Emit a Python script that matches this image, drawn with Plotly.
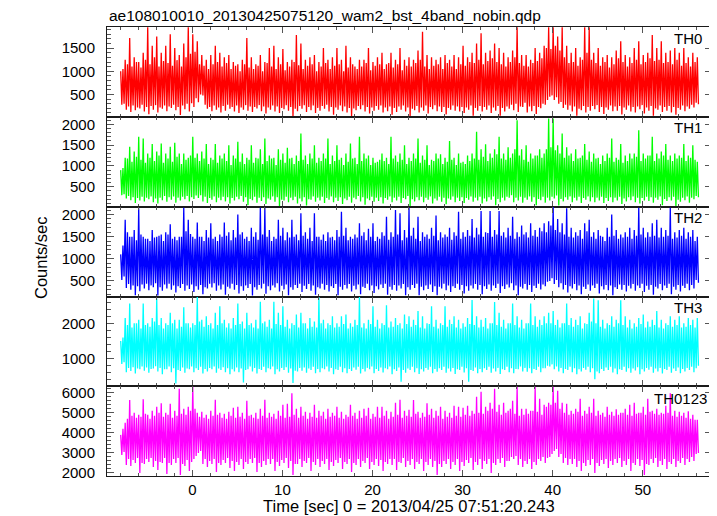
import plotly.graph_objects as go

title_text = "ae108010010_20130425075120_wam2_bst_4band_nobin.qdp"
x_title = "Time [sec] 0 = 2013/04/25 07:51:20.243"
y_title = "Counts/sec"
names = ["TH0", "TH1", "TH2", "TH3", "TH0123"]
colors = ["#ff0000", "#00ff00", "#0000ff", "#00ffff", "#ff00ff"]

T_START = -7.95
SPIKE_STEP = 0.5

TH0_hi = [1000,1250,1720,1300,1200,1400,1950,1550,1750,1400,
          1550,1800,1500,1350,1600,1950,1800,1650,1350,1250,
          1350,1550,1400,1300,1350,1200,1150,1250,1720,1300,
          1150,1350,1200,1500,1550,1300,1480,1200,1250,1780,
          1600,1250,1300,1350,1200,1500,1250,1300,1500,1250,
          1550,1300,1100,1250,1250,1500,1200,1300,1400,1150,
          1400,1250,1500,1250,1300,1250,1450,1850,1350,1300,
          1250,1300,1350,1250,1350,1300,1550,1300,1400,1600,
          1820,1400,1450,1600,1500,1400,1300,1450,1950,1350,
          1350,1250,1500,1400,1550,1950,1950,1750,1950,1550,
          1400,1500,1300,1950,1950,1400,1500,1300,1350,1300,
          1450,1650,1350,1300,1500,1650,1350,1400,1780,1500,
          1650,1400,1450,1500,1400,1500,1300,1400,1300]
TH0_hi2 = [1050,1150,1100,1200,1080,1250,1150,1300,1100,1220,
           1180,1120,1240,1100,1300,1380,1420,1150,1120,1050,
           1150,1200,1100,1180,1050,1120,1000,1150,1080,1050,
           1120,1000,1180,1100,1050,1150,1020,1100,1200,1130,
           1050,1120,1150,1000,1100,1180,1050,1120,1150,1000,
           1080,1150,1050,1100,1180,1020,1120,1150,1050,1180,
           1080,1150,1020,1120,1100,1180,1250,1100,1050,1120,
           1150,1050,1180,1100,1050,1150,1120,1200,1180,1250,
           1150,1220,1280,1200,1150,1100,1200,1300,1180,1120,
           1100,1180,1220,1280,1500,1480,1550,1450,1300,1180,
           1200,1120,1250,1400,1250,1180,1120,1200,1080,1150,
           1280,1200,1100,1180,1250,1150,1200,1280,1220,1250,
           1180,1200,1150,1250,1120,1180,1100,1200]
TH0_lo = [280,170,120,160,200,130,75,170,110,190,
          140,210,160,55,180,130,230,330,480,190,
          140,170,110,150,190,130,100,170,150,120,
          200,140,90,170,130,100,180,150,20,140,
          190,120,160,100,150,190,130,60,170,140,
          110,20,160,180,130,90,150,170,110,140,
          60,120,170,130,30,160,110,150,90,180,
          140,120,70,170,150,130,100,170,40,150,
          130,170,100,150,40,130,190,160,120,230,
          110,140,80,200,280,450,380,300,210,170,
          130,40,160,110,150,180,120,80,170,140,
          150,70,170,130,110,180,90,150,40,170,
          120,150,110,60,170,140,190,220,290]
TH0_lo2 = [300,240,260,220,280,230,250,270,220,260,
           240,280,230,260,300,310,420,500,280,230,
           260,220,250,280,230,260,220,270,240,230,
           270,240,220,260,240,210,270,230,190,250,
           270,230,260,210,250,280,230,220,260,240,
           210,200,250,270,230,220,250,260,220,240,
           210,240,260,220,190,250,220,260,230,270,
           240,230,210,260,240,230,220,260,210,250,
           230,260,220,250,210,240,280,300,240,320,
           240,250,230,300,380,480,440,340,280,260,
           240,190,250,230,250,270,230,220,260,240,
           250,220,260,230,240,270,220,250,200,260,
           230,250,230,210,260,240,280,320]

TH1_hi = [900,1200,1460,1350,1700,1660,1300,1530,1350,1540,
          1300,1460,1560,1300,1300,1200,1700,1300,1350,1530,
          1200,1530,1250,1300,1500,1250,1580,1300,1200,1500,
          1200,1400,1660,1250,1200,1400,1300,1440,1200,1250,
          1780,1250,1300,1500,1200,1300,1660,1250,1500,1200,
          1300,1540,1200,1700,1300,1250,1200,1100,1300,1200,
          1700,1250,1300,1500,1200,1300,1660,1250,1500,1150,
          1300,1280,1200,1600,1200,1300,1100,1250,1300,1820,
          1400,1520,1300,1400,1700,1300,1450,1300,2100,1400,
          1500,1300,1250,1400,1300,2140,2140,1500,1780,1450,
          1300,1400,1200,1530,1350,1300,1200,1250,1300,1660,
          1200,1530,1250,1300,1300,1860,1300,1250,1700,1300,
          1350,1530,1250,1300,1250,1530,1250,1500,1100]
TH1_hi2 = [950,1180,1100,1220,1150,1080,1200,1120,1250,1080,
           1180,1100,1220,1050,1150,1250,1200,1120,1180,1050,
           1150,1080,1180,1120,1020,1180,1100,1050,1150,1080,
           1180,1050,1120,1180,1020,1150,1080,1180,1050,1120,
           1150,1050,1180,1080,1120,1180,1050,1120,1150,1020,
           1100,1180,1050,1120,1180,1020,1080,1150,1120,1050,
           1180,1100,1150,1050,1120,1180,1080,1150,1020,1120,
           1180,1050,1100,1150,1020,1080,1050,1120,1180,1150,
           1220,1120,1200,1280,1180,1150,1200,1400,1250,1150,
           1100,1180,1250,1200,1400,1450,1380,1300,1200,1250,
           1120,1180,1250,1150,1100,1180,1050,1120,1200,1100,
           1150,1080,1120,1180,1220,1120,1180,1250,1120,1180,
           1250,1150,1120,1180,1200,1120,1200,1150]
TH1_lo = [300,220,180,110,170,150,200,130,100,180,
          140,190,120,170,200,150,210,230,150,110,
          190,130,180,150,100,170,200,140,60,180,
          120,160,90,190,140,30,170,130,180,100,
          150,50,190,140,170,110,190,130,160,90,
          180,120,200,150,70,180,140,160,100,190,
          130,170,110,200,40,150,180,130,190,100,
          170,140,80,190,130,160,110,190,140,170,
          100,150,190,60,130,170,240,130,170,120,
          190,140,60,180,120,170,220,50,150,190,
          130,170,110,190,150,130,170,110,160,130,
          170,90,150,180,130,100,170,160,120,190,
          60,160,170,30,140,180,120,200,250]
TH1_lo2 = [320,280,250,230,260,240,270,220,240,280,
           250,270,240,260,280,250,290,300,260,230,
           270,240,260,250,230,260,280,250,210,260,
           240,250,220,270,250,190,260,240,260,220,
           250,200,270,240,260,230,270,240,250,220,
           260,240,280,250,220,260,240,250,230,270,
           240,260,230,280,200,250,260,240,270,220,
           260,240,220,270,240,250,230,270,240,260,
           220,250,270,210,240,260,300,240,260,240,
           270,250,210,260,240,260,290,210,250,270,
           240,260,230,270,250,240,260,230,250,240,
           260,220,250,270,240,230,260,250,240,270,
           210,250,260,190,240,270,240,280]

TH2_hi = [1100,1880,1500,1650,2140,1500,1450,1650,1500,1550,
          1600,1780,1500,1500,2150,1880,1500,1820,1500,1650,
          1800,1500,1550,1820,1600,1650,2000,1600,1500,1700,
          1600,2150,2150,1650,1500,1880,1700,1600,1880,1550,
          2030,1600,1700,2030,1500,1550,1600,1500,1650,2060,
          1700,1500,1550,1800,1600,1680,1800,1500,1600,1950,
          1600,2100,2030,1650,2150,1700,1950,1600,1550,1700,
          1980,1600,1550,1700,1600,2060,1600,1650,1900,1700,
          2080,1600,2080,1650,2080,1600,1700,1950,1600,1750,
          1600,1800,1650,1700,1800,1850,2170,1900,1800,2140,
          1700,1600,1650,1800,1880,1600,1650,1500,1700,2000,
          1650,1550,1600,1700,1650,2150,1700,1600,1800,1880,
          1700,1650,2150,1600,1650,1700,1600,1650,1500]
TH2_hi2 = [1300,1600,1500,1420,1550,1450,1400,1480,1520,1400,
           1550,1450,1420,1500,1620,1560,1450,1500,1400,1480,
           1450,1400,1500,1520,1420,1480,1550,1450,1400,1500,
           1430,1550,1500,1400,1450,1520,1420,1480,1500,1420,
           1520,1450,1400,1500,1430,1400,1480,1420,1500,1520,
           1420,1450,1480,1520,1420,1500,1400,1450,1520,1430,
           1500,1550,1420,1480,1520,1450,1400,1500,1450,1520,
           1420,1480,1500,1430,1520,1450,1500,1520,1480,1550,
           1500,1580,1500,1550,1520,1480,1520,1450,1500,1550,
           1480,1520,1500,1620,1600,1750,1650,1600,1550,1500,
           1480,1520,1450,1620,1500,1450,1520,1400,1500,1520,
           1450,1480,1500,1450,1520,1550,1480,1500,1520,1480,
           1500,1520,1450,1480,1520,1450,1500,1400]
TH2_lo = [520,340,300,180,270,330,290,360,170,280,
          330,300,240,340,280,320,250,300,200,330,
          350,280,310,190,330,300,220,280,340,170,
          300,330,210,290,350,260,310,180,300,340,
          250,320,280,190,330,300,260,340,180,300,
          330,260,310,200,340,290,230,310,340,190,
          300,280,330,180,300,340,180,290,320,250,
          180,330,290,250,340,300,220,280,330,300,
          200,320,280,340,230,320,350,290,180,330,
          300,250,340,310,380,500,430,360,310,240,
          330,290,200,320,280,340,220,310,290,180,
          320,300,260,330,280,340,250,300,190,330,
          290,340,200,300,260,340,290,330,460]
TH2_lo2 = [600,430,400,380,420,440,400,450,360,420,
           440,400,380,430,400,420,380,410,360,440,
           450,400,420,370,440,410,380,400,430,360,
           410,440,380,400,450,390,420,360,410,440,
           390,430,400,360,440,410,380,430,370,410,
           430,390,420,370,440,400,380,420,440,370,
           410,400,430,360,410,440,370,400,420,380,
           370,440,400,380,440,410,380,400,430,410,
           380,420,400,440,380,420,450,400,370,430,
           410,390,440,420,480,560,520,450,410,380,
           430,400,370,420,400,440,380,410,400,360,
           420,410,390,430,400,440,390,410,370,430,
           400,440,370,410,390,440,410,520]

TH3_hi = [1500,2150,2560,2000,2100,2560,2000,2150,2700,2150,
          2000,2300,2100,2100,2450,2000,2000,2740,2100,2200,
          2000,2300,2480,2100,2000,2150,2560,2050,2300,2000,
          2100,2610,2050,2100,2610,2300,2480,2100,2000,2250,
          2300,2000,2150,2050,2740,2100,2000,2200,2000,2200,
          2250,2000,2100,2740,2000,2100,2480,2100,2000,2510,
          2050,2150,2000,2250,2200,2100,2350,2200,2000,2480,
          2100,2000,2480,2100,2200,2100,2000,2150,2660,2200,
          2100,2150,2000,2600,2300,2100,2000,2560,2200,2100,
          2000,2560,2200,2100,2200,2300,2350,2100,2000,2560,
          2150,2100,2200,2000,2300,2700,2650,2100,2000,2200,
          2100,2650,2200,2100,2000,2150,2250,2050,2100,2350,
          2100,2000,2200,2100,2200,2000,2150,2100,2150]
TH3_hi2 = [1600,1950,1880,2000,1850,1950,1900,2050,1950,1850,
           1950,2000,1850,1900,2000,1880,1950,2050,1900,1950,
           1850,1950,2000,1880,1850,1950,1980,1850,1950,1880,
           1850,2000,1900,1850,1980,1950,1900,1850,1950,1880,
           2000,1850,1900,1880,2000,1850,1950,1880,1900,1980,
           1850,1900,1950,1880,1850,1980,1900,1850,1950,1880,
           1900,1950,1850,1980,1900,1950,1880,1850,1980,1900,
           1850,1950,1900,1980,1880,1850,1900,1980,1950,1880,
           1900,1850,2000,1950,1900,1850,2000,1950,1880,1850,
           2000,1950,1900,1950,2000,2000,1950,1880,2000,1950,
           1900,1950,1850,1980,2050,2000,1900,1850,1950,1900,
           2000,1950,1880,1850,1900,1980,1880,1900,1950,1880,
           1850,1950,1900,1950,1880,1900,1950,1880]
TH3_lo = [850,620,650,580,700,660,600,720,640,560,
          700,620,300,650,600,700,620,680,580,640,
          700,600,680,620,560,640,620,330,700,640,
          580,680,620,700,560,640,680,600,310,640,
          660,600,680,590,620,700,640,560,680,620,
          590,650,690,580,640,700,590,650,610,700,
          560,650,350,600,680,620,570,640,690,590,
          630,680,600,640,570,680,610,350,650,590,
          620,680,600,640,570,680,620,590,700,640,
          630,590,680,620,730,780,700,640,590,680,
          620,560,640,690,620,420,590,650,680,610,
          560,680,630,600,670,560,640,690,600,640,
          580,680,600,650,590,640,680,620,800]
TH3_lo2 = [900,740,760,720,780,750,710,790,740,700,
           780,730,680,750,720,780,730,770,710,740,
           780,720,760,730,700,750,720,680,780,740,
           710,770,730,780,700,740,760,720,660,740,
           750,720,770,710,730,780,740,700,770,730,
           710,750,770,710,740,780,710,750,730,780,
           700,750,680,720,770,730,700,740,770,710,
           730,770,720,740,700,770,730,680,750,710,
           730,770,720,740,700,770,730,710,780,740,
           730,710,770,730,800,840,780,740,710,770,
           730,700,740,770,730,640,710,750,770,720,
           700,770,730,720,760,700,740,770,720,740,
           710,770,720,750,710,740,770,730]

TH4_hi = [3900,4500,5640,5000,4900,5680,4900,5100,5300,5480,
          5000,5450,5100,6200,5200,5300,6300,5000,5050,4900,
          5100,5650,5000,4950,5050,5250,5300,5000,5600,4900,
          5000,5200,5650,5000,4950,5100,5400,5450,5970,5200,
          5300,5050,5000,5400,5100,5050,5200,5000,5300,5050,
          4900,5400,5000,5100,5200,5250,4950,5300,5300,5100,
          5050,5500,5650,5100,5150,5640,5050,5000,5470,5200,
          5100,5300,5100,5000,5350,5300,5250,5350,5100,5800,
          6050,5300,5500,6200,5400,5500,5100,5600,6300,5200,
          5200,5100,6300,5700,5400,5500,6300,6100,5500,5450,
          5100,5200,5700,5100,5300,5700,5100,5000,5300,5050,
          5180,5000,5200,5400,5500,5000,5300,5700,5100,5200,
          5000,5350,5970,5100,5050,5000,5080,4900,4650]
TH4_hi2 = [4200,4700,4850,4750,4800,4950,4700,4850,5000,4800,
           4900,4750,4850,4950,4900,5100,5200,4800,4750,4700,
           4850,4900,4750,4700,4850,4750,4800,4700,4850,4750,
           4700,4850,4750,4800,4700,4850,4750,4800,4900,4750,
           4850,4700,4800,4750,4850,4700,4800,4850,4750,4700,
           4800,4850,4700,4750,4850,4700,4800,4750,4850,4700,
           4800,4900,4750,4850,4800,4950,4750,4800,4900,4750,
           4850,4700,4800,4750,4850,4800,4900,4850,4950,5000,
           4950,5100,5200,5050,4900,5000,5200,4950,4850,4900,
           4950,5100,5050,4900,5300,5400,5500,5200,5000,4900,
           4950,5050,4850,4950,5000,4850,4900,4800,4900,4850,
           4900,5000,4900,4850,4950,5000,4900,5050,4950,4900,
           4950,5000,4850,4800,4850,4750,4700,4650]
TH4_lo = [2900,2400,2350,2500,2000,2450,2550,2300,2150,2500,
          1950,2400,2500,1900,2350,2100,2700,3000,2450,2300,
          2450,2050,2400,2500,2250,2100,2400,2200,2450,2500,
          2050,2300,2400,2450,2100,2350,2500,2250,1900,2450,
          2300,2500,2100,2400,2300,2450,2150,2350,2500,2200,
          2450,2050,2400,2300,2500,2200,2400,2350,2100,2450,
          2400,2150,2500,2300,2400,2200,2450,2100,2400,2300,
          1900,2300,2450,2200,2400,2100,2350,2500,2150,2400,
          2200,2450,2000,2400,2500,2300,2600,2700,2400,2300,
          2450,2200,2400,2600,2500,2800,3100,2800,2500,2400,
          2450,2300,2100,2350,2400,2000,2350,2450,2250,2400,
          2500,2300,2400,2100,2400,2350,1900,2400,2500,2300,
          2400,2200,2450,2300,2500,2400,2550,2600,3000]
TH4_lo2 = [3050,2700,2650,2750,2500,2700,2750,2600,2550,2750,
           2500,2700,2750,2450,2650,2550,2850,3100,2700,2600,
           2700,2500,2650,2750,2600,2550,2700,2550,2700,2750,
           2500,2600,2700,2700,2550,2650,2750,2600,2450,2700,
           2600,2750,2550,2700,2600,2700,2550,2650,2750,2550,
           2700,2500,2700,2600,2750,2550,2700,2650,2550,2700,
           2700,2550,2750,2600,2700,2550,2700,2550,2700,2600,
           2450,2600,2700,2550,2700,2550,2650,2750,2550,2700,
           2600,2700,2500,2700,2750,2600,2800,2850,2700,2600,
           2700,2550,2700,2800,2750,2950,3200,2950,2750,2700,
           2700,2600,2500,2650,2700,2500,2650,2700,2600,2700,
           2750,2600,2700,2500,2700,2650,2450,2700,2750,2600,
           2700,2550,2700,2600,2750,2700,2800,2950]

series_hi = [TH0_hi, TH1_hi, TH2_hi, TH3_hi, TH4_hi]
series_lo = [TH0_lo, TH1_lo, TH2_lo, TH3_lo, TH4_lo]
series_hi2 = [TH0_hi2, TH1_hi2, TH2_hi2, TH3_hi2, TH4_hi2]
series_lo2 = [TH0_lo2, TH1_lo2, TH2_lo2, TH3_lo2, TH4_lo2]

y_ranges = [(20, 1955), (20, 2183), (138, 2174), (220, 2743), (1850, 6320)]
y_minor = [100, 100, 100, 200, 200]
y_ticks = [[500, 1000, 1500], [500, 1000, 1500, 2000], [500, 1000, 1500, 2000], [1000, 2000],
           [2000, 3000, 4000, 5000, 6000]]
x_range = (-9.47, 57.68)
x_ticks = [0, 10, 20, 30, 40, 50]

# The page body adds 8 px around the figure, so the figure is 8 px smaller and margins are shifted.
PAGE = 8
W, H = 717 - PAGE, 516 - PAGE
L, R, T, B = 107 - PAGE, 5, 27 - PAGE, 40
plot_h = H - T - B
plot_w = W - L - R
edges_px = [27, 116.7, 206.8, 297, 386.3, 476]
label_right_px = [704, 704, 704, 704, 709]
label_mid_px = [38, 127, 217, 307, 398]
INK = "#1a1a1a"
TICK = "#555555"
FONT = "Liberation Sans"

fig = go.Figure()
layout = {}
for i in range(5):
    n = "" if i == 0 else str(i + 1)
    top = (476 - edges_px[i]) / plot_h
    bot = (476 - edges_px[i + 1]) / plot_h
    ts, ys = [], []
    for k in range(len(series_hi[i])):
        t0 = T_START + SPIKE_STEP * k
        ts += [t0, t0 + SPIKE_STEP / 4]
        ys += [series_hi[i][k], series_lo[i][k]]
        if k < len(series_hi2[i]) and k < len(series_lo2[i]):
            ts += [t0 + SPIKE_STEP / 2, t0 + 3 * SPIKE_STEP / 4]
            ys += [series_hi2[i][k], series_lo2[i][k]]
    fig.add_trace(go.Scatter(
        x=ts, y=ys, mode="lines", name=names[i], line=dict(width=1.3, color=colors[i]),
        showlegend=False, xaxis="x" + n, yaxis="y" + n))
    layout["xaxis" + n] = dict(
        domain=[0, 1], range=list(x_range), anchor="y" + n, tickmode="array", tickvals=x_ticks,
        showticklabels=i == 4, ticks="inside", ticklen=6, tickwidth=1, tickcolor=TICK,
        minor=dict(dtick=2, ticks="inside", ticklen=3, tickwidth=1, tickcolor=TICK, showgrid=False),
        mirror="allticks", showline=True, linecolor=INK, linewidth=1, showgrid=False, zeroline=False,
        tickfont=dict(family=FONT, size=15, color="#000"))
    layout["yaxis" + n] = dict(
        domain=[bot, top], range=list(y_ranges[i]), anchor="x" + n, tickmode="array", tickvals=y_ticks[i],
        ticks="inside", ticklen=7, tickwidth=1, tickcolor=TICK, ticklabelstandoff=8,
        minor=dict(dtick=y_minor[i], ticks="inside", ticklen=3.5, tickwidth=1, tickcolor=TICK, showgrid=False),
        mirror="allticks", showline=True, linecolor=INK, linewidth=1, showgrid=False, zeroline=False,
        tickfont=dict(family=FONT, size=15, color="#000"))

annotations = [dict(text=names[i], xref="paper", yref="paper",
                    x=(label_right_px[i] - 107) / plot_w, xanchor="right",
                    y=(476 - label_mid_px[i]) / plot_h, yanchor="middle", showarrow=False,
                    font=dict(family=FONT, size=15, color="#000")) for i in range(5)]
annotations.append(dict(text=y_title, xref="paper", yref="paper", x=(41 - 107) / plot_w, y=(476 - 258) / plot_h,
                        xanchor="center", yanchor="middle", textangle=-90, showarrow=False,
                        font=dict(family=FONT, size=16.5, color="#000")))
annotations.append(dict(text=x_title, xref="paper", yref="paper", x=(409 - 107) / plot_w, y=(476 - 506) / plot_h,
                        xanchor="center", yanchor="middle", showarrow=False,
                        font=dict(family=FONT, size=16.5, color="#000")))
annotations.append(dict(text=title_text, xref="paper", yref="paper", x=0, y=(476 - 15) / plot_h,
                        xanchor="left", yanchor="middle", showarrow=False,
                        font=dict(family=FONT, size=15.5, color="#000")))

fig.update_layout(width=W, height=H, margin=dict(l=L, r=R, t=T, b=B, pad=0),
                  paper_bgcolor="white", plot_bgcolor="white", annotations=annotations, **layout)
fig.write_html("out.html")
